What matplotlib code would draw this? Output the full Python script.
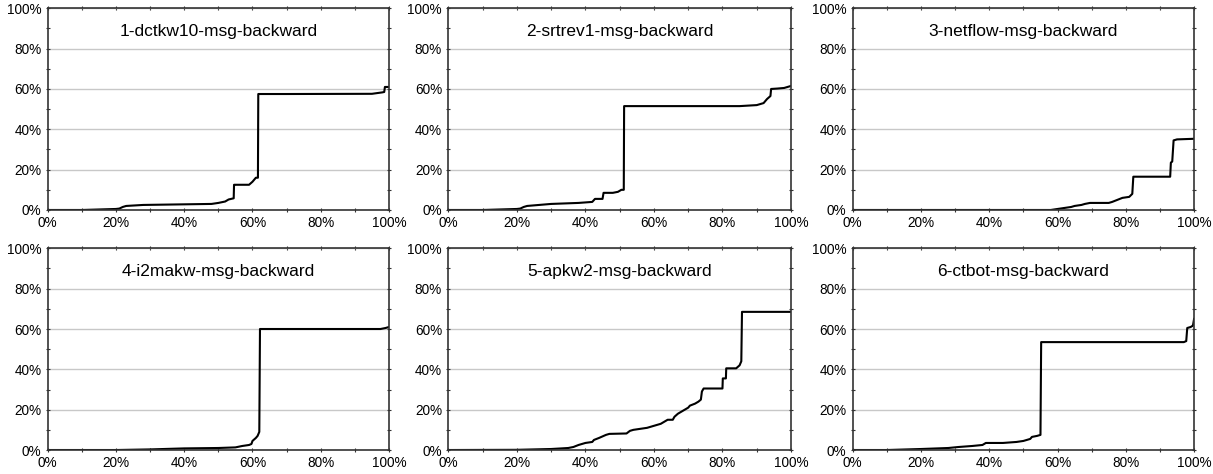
import matplotlib.pyplot as plt
from matplotlib.ticker import MultipleLocator, PercentFormatter

plt.rcParams['font.family'] = ['Liberation Sans', 'DejaVu Sans']

titles = [
    '1-dctkw10-msg-backward',
    '2-srtrev1-msg-backward',
    '3-netflow-msg-backward',
    '4-i2makw-msg-backward',
    '5-apkw2-msg-backward',
    '6-ctbot-msg-backward',
]

# curve points (x %, y %)
x1 = [0, 10, 20, 21, 22, 23, 28, 40, 48, 50, 52, 53, 54.5, 54.6, 55, 59, 60, 61, 61.6, 61.7, 70, 95, 98, 98.6, 98.8, 100]
y1 = [0, 0, 0.5, 0.7, 1.5, 2.0, 2.5, 2.8, 3, 3.5, 4.2, 5.2, 5.8, 12.5, 12.5, 12.5, 14, 16, 16, 57.5, 57.5, 57.6, 58.3, 58.5, 61, 61]

x2 = [0, 10, 20, 21, 22, 23, 30, 38, 42, 42.8, 45, 45.3, 48, 49.5, 50.5, 51.2, 51.3, 85, 90, 92, 93, 94, 94.2, 96, 98, 100]
y2 = [0, 0, 0.5, 0.7, 1.5, 2, 3, 3.5, 4, 5.5, 5.5, 8.5, 8.5, 9, 10, 10, 51.5, 51.5, 52, 53, 55, 56.5, 60, 60.2, 60.5, 61.5]

x3 = [0, 58, 60, 62, 64, 65, 67, 68, 69.5, 75, 76, 77.5, 79, 81, 81.9, 82.2, 93, 93.2, 93.6, 94, 95, 100]
y3 = [0, 0, 0.5, 1, 1.5, 2, 2.5, 3, 3.5, 3.5, 4, 5, 6, 6.5, 8, 16.5, 16.5, 23.5, 24, 34.5, 35, 35.3]

x4 = [0, 20, 30, 40, 50, 55, 57, 59, 59.7, 60, 61, 61.5, 62, 62.2, 97.5, 99, 100]
y4 = [0, 0, 0.3, 0.8, 1, 1.3, 2, 2.5, 3, 4.5, 6, 7, 9, 60, 60, 60.5, 61]

x5 = [0, 20, 25, 30, 35, 36.5, 38, 40, 42, 42.5, 44, 46, 47, 52, 53, 54, 58, 60, 62, 63, 64, 65.5, 66,
      67, 68, 69, 70, 70.5, 72, 73, 73.7, 74, 74.5, 80, 80.1, 81, 81.1, 84, 85, 85.5, 85.7, 100]
y5 = [0, 0.1, 0.3, 0.5, 1, 1.5, 2.5, 3.5, 4, 5, 6, 7.5, 8, 8.2, 9.5, 10, 11, 12, 13, 14, 15, 15, 16.5,
      18, 19, 20, 21, 22, 23, 24, 25, 29, 30.5, 30.5, 35.5, 35.5, 40.5, 40.5, 42, 44, 68.5, 68.5]

x6 = [0, 10, 20, 28, 31, 35, 38, 39, 44, 48, 50, 52, 52.5, 54, 55, 55.2, 97, 97.7, 98, 99, 99.5, 99.7, 100]
y6 = [0, 0, 0.5, 1, 1.5, 2, 2.5, 3.5, 3.5, 4, 4.5, 5.5, 6.5, 7, 7.5, 53.5, 53.5, 54, 60.5, 61, 61.5, 62, 65]

xs = [x1, x2, x3, x4, x5, x6]
ys = [y1, y2, y3, y4, y5, y6]

fig = plt.figure(figsize=(12.13, 4.74), dpi=100)
lefts = [0.0393, 0.3696, 0.703]
widths = [0.2814, 0.2825, 0.2814]
bottoms = [0.557, 0.0506]
height = 0.4255

for i in range(6):
    row, col = divmod(i, 3)
    ax = fig.add_axes([lefts[col], bottoms[row], widths[col], height])
    ax.plot(xs[i], ys[i], color='black', linewidth=1.5)
    ax.set_xlim(0, 100)
    ax.set_ylim(0, 100)
    ax.xaxis.set_major_locator(MultipleLocator(20))
    ax.xaxis.set_minor_locator(MultipleLocator(10))
    ax.yaxis.set_major_locator(MultipleLocator(20))
    ax.yaxis.set_minor_locator(MultipleLocator(10))
    ax.xaxis.set_major_formatter(PercentFormatter(decimals=0))
    ax.yaxis.set_major_formatter(PercentFormatter(decimals=0))
    ax.grid(axis='y', which='major', color='#c8c8c8', linewidth=1)
    ax.set_axisbelow(True)
    ax.tick_params(which='both', direction='inout', top=True, right=True,
                   length=3, width=0.8, color='#333333', labelsize=9.8, pad=3)
    for s in ax.spines.values():
        s.set_color('#333333')
        s.set_linewidth(1.2)
    ax.text(0.5, 0.885, titles[i], transform=ax.transAxes, ha='center', va='center', fontsize=12.5)

fig.savefig('out.png', dpi=100)
